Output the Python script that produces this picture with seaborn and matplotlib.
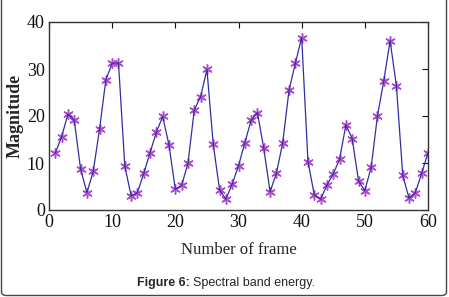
import numpy as np
import pandas as pd
import matplotlib
matplotlib.use('Agg')
import matplotlib.pyplot as plt
from matplotlib.patches import FancyBboxPatch
import seaborn as sns

# values, one per frame (1..60)
frames = list(range(1, 61))
magnitude = [12.1, 15.6, 20.4, 19.1, 8.7, 3.7, 8.2, 17.2, 27.7, 31.2,
             31.3, 9.4, 3.0, 3.7, 7.8, 12.2, 16.6, 19.9, 13.8, 4.4,
             5.3, 9.9, 21.3, 24.1, 29.9, 14.0, 4.3, 2.3, 5.5, 9.4,
             14.3, 19.1, 20.7, 13.1, 3.9, 7.8, 14.3, 25.5, 31.2, 36.7,
             10.3, 3.2, 2.3, 5.3, 7.7, 10.8, 18.1, 15.2, 6.2, 4.1,
             9.1, 20.0, 27.5, 36.0, 26.4, 7.4, 2.5, 3.7, 7.8, 12.2]

df = pd.DataFrame({'frame': frames, 'magnitude': magnitude})

sns.set_style("white")
fig = plt.figure(figsize=(4.49, 2.97), dpi=100)
ax = fig.add_axes([49/449, 87/297, 379/449, 188/297])

# markers first, line on top like the original
sns.scatterplot(df, x='frame', y='magnitude', ax=ax, marker=(6, 2, 0), s=45,
                color='#b04fc8', edgecolor='#b04fc8', linewidth=1.1, zorder=2)
sns.lineplot(df, x='frame', y='magnitude', ax=ax, color='#2f2fa8', lw=0.9, zorder=3)

ax.set_xlim(0, 60)
ax.set_ylim(0, 40)
ax.set_xticks(range(0, 61, 10))
ax.set_yticks(range(0, 41, 10))
for s in ax.spines.values():
    s.set_color('#333333')
    s.set_linewidth(1.0)
ax.tick_params(direction='in', top=True, right=True, length=4, width=0.8,
               labelsize=13, pad=3, colors='#111111')
for lab in ax.get_xticklabels() + ax.get_yticklabels():
    lab.set_fontfamily('Liberation Serif')

ax.set_xlabel('Number of frame', fontfamily='Liberation Serif', fontsize=12, labelpad=8)
ax.set_ylabel('Magnitude', fontfamily='Liberation Serif', fontsize=13,
              fontweight='bold')
ax.yaxis.set_label_coords(-25/379, 0.5)

fig.text(190/449, 1 - 283/297, 'Figure 6:', ha='right', va='center',
         fontfamily='Liberation Sans', fontweight='bold', fontsize=9)
fig.text(193/449, 1 - 283/297, 'Spectral band energy.', ha='left', va='center',
         fontfamily='Liberation Sans', fontsize=9)

box = FancyBboxPatch((1.5/449, 1.5/297), 445/449, 300/297,
                     boxstyle='round,pad=0,rounding_size=0.012',
                     transform=fig.transFigure, fill=False,
                     edgecolor='#444444', lw=1.0, clip_on=False)
fig.patches.append(box)

fig.savefig('out.png', dpi=100)
